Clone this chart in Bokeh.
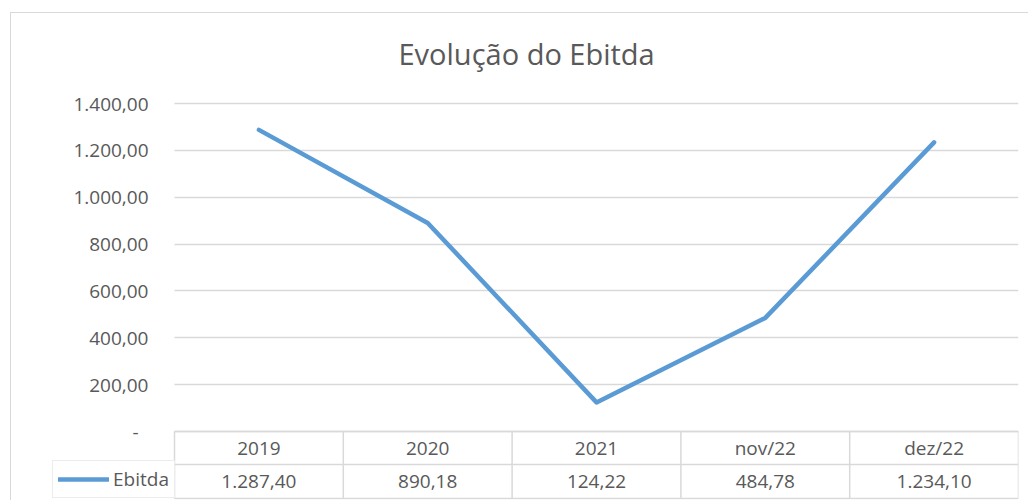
from bokeh.plotting import figure
from bokeh.models import FixedTicker, Range1d, Legend, LegendItem, ColumnDataSource
from bokeh.core.properties import value
from bokeh.embed import file_html
from bokeh.resources import INLINE

# ---- data ----
categories = ["2019", "2020", "2021", "nov/22", "dez/22"]
ebitda = [1287.40, 890.18, 124.22, 484.78, 1234.10]
series_name = "Ebitda"
y_ticks = [0, 200, 400, 600, 800, 1000, 1200, 1400]
y_tick_labels = ["-\u00a0\u00a0", "200,00", "400,00", "600,00", "800,00",
                 "1.000,00", "1.200,00", "1.400,00"]
title_text = "Evolução do Ebitda"


def fmt_br(v):
    s = f"{v:,.2f}"
    return s.replace(",", "X").replace(".", ",").replace("X", ".")


value_labels = [fmt_br(v) for v in ebitda]

# ---- layout constants (pixels in the reference image) ----
TEXT = "#595959"
GRID = "#d9d9d9"
LINE = "#5b9bd5"
FONT = "Open Sans"

content_left, content_top = 11, 13
frame_left_px, plot_left_px, frame_right_px = 52, 174, 1018
frame_top_px, tick_top_px, zero_px, row_px, table_bottom_px, frame_bottom_px = 90, 103, 431, 464, 498, 499
fig_w, fig_h = 1018, 488

upp = 1400 / (zero_px - tick_top_px)          # data units per pixel (y)
y_end = 1400 + (tick_top_px - frame_top_px) * upp
y_start = -(frame_bottom_px - zero_px) * upp
y_row = -(row_px - zero_px) * upp
y_bot = -(table_bottom_px - zero_px) * upp
y_head_mid = y_row / 2
y_val_mid = (y_row + y_bot) / 2

n = len(categories)
xs = list(range(n))
ppc = (frame_right_px - plot_left_px) / n     # pixels per category
x_start = -0.5 - (plot_left_px - frame_left_px) / ppc
x_end = n - 0.5

p = figure(width=fig_w, height=fig_h, output_backend="svg", toolbar_location=None,
           x_range=Range1d(x_start, x_end), y_range=Range1d(y_start, y_end),
           x_axis_location=None,
           min_border_left=frame_left_px - content_left,
           min_border_right=content_left + fig_w - frame_right_px,
           min_border_top=frame_top_px - content_top,
           min_border_bottom=content_top + fig_h - frame_bottom_px)
p.margin = (content_top - 1, 0, 0, content_left - 1)
p.styles = {"border-left": "1px solid #d9d9d9", "border-top": "1px solid #d9d9d9"}
p.outline_line_color = None
p.background_fill_color = "white"
p.border_fill_color = "white"

# title
p.title.text = title_text
p.title.align = "left"
p.title.offset = 398 - frame_left_px
p.title.standoff = 36
p.title.text_font = FONT
p.title.text_font_size = "29px"
p.title.text_font_style = "normal"
p.title.text_color = TEXT

# y axis (labels sit just left of the plot area)
yax = p.yaxis[0]
yax.ticker = FixedTicker(ticks=y_ticks)
yax.major_label_overrides = dict(zip(y_ticks, y_tick_labels))
yax.axis_line_color = None
yax.major_tick_line_color = None
yax.minor_tick_line_color = None
yax.major_tick_out = 0
yax.major_tick_in = 0
yax.major_label_standoff = -(148 - frame_left_px)
yax.major_label_text_font = FONT
yax.major_label_text_font_size = "19px"
yax.major_label_text_color = TEXT
p.xgrid.visible = False
p.ygrid.ticker = FixedTicker(ticks=y_ticks)
p.ygrid.grid_line_color = GRID
p.ygrid.grid_line_width = 1.3
try:
    p.ygrid.cross_bounds = (-0.5, n - 0.5)
except Exception:
    p.ygrid.visible = False
    p.segment(x0=[-0.5] * len(y_ticks), y0=y_ticks, x1=[n - 0.5] * len(y_ticks),
              y1=y_ticks, line_color=GRID, line_width=1.3)

# data table lines
bounds = [i - 0.5 for i in range(n + 1)]
p.segment(x0=bounds, y0=[0] * len(bounds), x1=bounds, y1=[y_bot] * len(bounds),
          line_color=GRID, line_width=1.5)
p.segment(x0=[-0.5] * 3, y0=[0, y_row, y_bot], x1=[n - 0.5] * 3, y1=[0, y_row, y_bot],
          line_color=GRID, line_width=1.5)

# table texts
p.text(x=xs, y=[y_head_mid] * n, text=categories, text_align="center",
       text_baseline="middle", text_font=value(FONT), text_font_size="19px",
       text_color=TEXT)
p.text(x=xs, y=[y_val_mid] * n, text=value_labels, text_align="center",
       text_baseline="middle", text_font=value(FONT), text_font_size="19px",
       text_color=TEXT)

# series line
src = ColumnDataSource(dict(x=xs, y=ebitda))
r = p.line("x", "y", source=src, line_color=LINE, line_width=4.5,
           line_cap="round", line_join="round")

legend = Legend(items=[LegendItem(label=series_name, renderers=[r])],
                location=(0, frame_bottom_px - table_bottom_px), orientation="vertical",
                border_line_color=GRID, border_line_width=1.5,
                background_fill_color="white", background_fill_alpha=1,
                padding=5, margin=0, spacing=0, glyph_width=51, glyph_height=24,
                label_height=24, label_standoff=4, label_text_font=FONT,
                label_text_font_size="19px", label_text_color=TEXT,
                label_text_baseline="middle")
p.add_layout(legend)

open("out.html", "w").write(file_html(p, INLINE))
